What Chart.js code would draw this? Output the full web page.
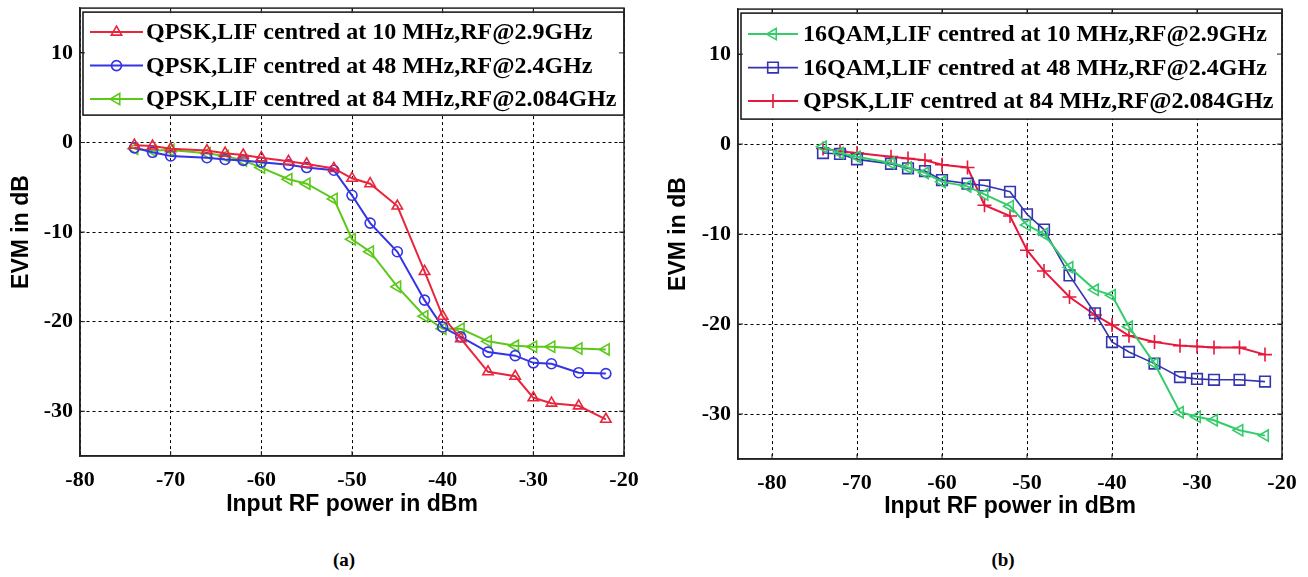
<!DOCTYPE html>
<html>
<head>
<meta charset="utf-8">
<script src="https://cdn.jsdelivr.net/npm/chart.js@4.4.0/dist/chart.umd.min.js"></script>
<style>
  body { margin: 0; background: #fff; width: 1308px; height: 577px; position: relative; overflow: hidden; }
  .wrap { position: absolute; top: 0; height: 520px; }
  #wrapA { left: 0; width: 650px; }
  #wrapB { left: 650px; width: 658px; }
  .cap { position: absolute; top: 549px; font: bold 19px 'Liberation Serif', serif; transform: translateX(-50%); }
</style>
</head>
<body>
<div class="wrap" id="wrapA"><canvas id="chartA"></canvas></div>
<div class="wrap" id="wrapB"><canvas id="chartB"></canvas></div>
<div class="cap" style="left:344px">(a)</div>
<div class="cap" style="left:1003px">(b)</div>
<script>
// input RF power (dBm), same sweep for every curve
const power = [-74, -72, -70, -66, -64, -62, -60, -57, -55, -52, -50, -48, -45, -42, -40, -38, -35, -32, -30, -28, -25, -22];

// (a) EVM in dB
const qpsk10 = [-0.3, -0.4, -0.7, -0.9, -1.2, -1.4, -1.7, -2.1, -2.4, -2.9, -4.0, -4.6, -7.1, -14.4, -19.4, -21.9, -25.6, -26.1, -28.5, -29.1, -29.4, -30.9];
const qpsk48 = [-0.6, -1.1, -1.5, -1.7, -1.9, -2.0, -2.2, -2.5, -2.8, -3.1, -5.9, -9.0, -12.2, -17.6, -20.6, -21.7, -23.4, -23.8, -24.6, -24.7, -25.7, -25.8];
const qpsk84 = [-0.7, -0.9, -0.85, -1.2, -1.5, -2.0, -2.8, -4.1, -4.6, -6.3, -10.8, -12.2, -16.1, -19.4, -20.8, -20.8, -22.2, -22.7, -22.8, -22.8, -23.0, -23.1];

// (b) EVM in dB
const qam10 = [-0.3, -1.0, -1.4, -2.1, -2.6, -3.2, -4.2, -4.7, -5.6, -6.9, -9.0, -10.0, -13.7, -16.2, -16.8, -20.3, -24.4, -29.8, -30.3, -30.7, -31.8, -32.4];
const qam48 = [-1.0, -1.1, -1.7, -2.2, -2.7, -3.0, -4.0, -4.4, -4.6, -5.3, -7.8, -9.5, -14.6, -18.8, -22.0, -23.1, -24.4, -25.9, -26.1, -26.2, -26.2, -26.4];
const qpskB84 = [-0.5, -0.8, -1.0, -1.4, -1.6, -1.8, -2.3, -2.6, -6.8, -8.0, -11.8, -14.1, -17.0, -19.0, -20.1, -21.3, -22.0, -22.4, -22.5, -22.6, -22.6, -23.4];

const xTicks = [-80, -70, -60, -50, -40, -30, -20];
const yTicks = [-30, -20, -10, 0, 10];

const labelsA = ['QPSK,LIF centred at 10 MHz,RF@2.9GHz', 'QPSK,LIF centred at 48 MHz,RF@2.4GHz', 'QPSK,LIF centred at 84 MHz,RF@2.084GHz'];
const labelsB = ['16QAM,LIF centred at 10 MHz,RF@2.9GHz', '16QAM,LIF centred at 48 MHz,RF@2.4GHz', 'QPSK,LIF centred at 84 MHz,RF@2.084GHz'];

function toPoints(ys) {
    return power.map((x, i) => ({ x: x, y: ys[i] }));
}

function series(label, ys, color, style, radius, rotation, width) {
    return {
        label: label,
        data: toPoints(ys),
        borderColor: color,
        backgroundColor: color,
        borderWidth: width,
        pointStyle: style,
        pointRadius: radius,
        pointRotation: rotation,
        pointBorderWidth: 1.6,
        pointBackgroundColor: 'rgba(0,0,0,0)',
        pointBorderColor: color,
        tension: 0
    };
}

// legend drawn inside the plot, matlab style
const boxLegend = {
    id: 'boxLegend',
    afterDatasetsDraw(chart, args, opts) {
        const ctx = chart.ctx;
        const area = chart.chartArea;
        const left = area.left + opts.dx;
        const top = area.top + opts.dy;
        const right = area.right;
        const bottom = top + opts.h;
        ctx.save();
        ctx.fillStyle = '#fff';
        ctx.fillRect(left, top, right - left, bottom - top);
        ctx.strokeStyle = '#111';
        ctx.lineWidth = 1.5;
        ctx.strokeRect(left, top, right - left, bottom - top);
        ctx.font = 'bold 24px "Liberation Serif"';
        ctx.textBaseline = 'middle';
        chart.data.datasets.forEach((ds, i) => {
            const y = top + opts.first + i * opts.step;
            ctx.strokeStyle = ds.borderColor;
            ctx.lineWidth = ds.borderWidth;
            ctx.beginPath();
            ctx.moveTo(left + 7, y);
            ctx.lineTo(left + opts.lineEnd, y);
            ctx.stroke();
            ctx.lineWidth = ds.pointBorderWidth;
            ctx.fillStyle = 'rgba(0,0,0,0)';
            Chart.helpers.drawPoint(ctx, {
                pointStyle: ds.pointStyle,
                rotation: ds.pointRotation,
                radius: ds.pointRadius,
                borderWidth: ds.pointBorderWidth
            }, left + 7 + (opts.lineEnd - 7) / 2, y);
            ctx.fillStyle = '#000';
            ctx.fillText(ds.label, left + opts.textX, y + 1);
        });
        ctx.restore();
    }
};

// full box and inward ticks
const frame = {
    id: 'frame',
    afterDraw(chart) {
        const ctx = chart.ctx;
        const a = chart.chartArea;
        const xs = chart.scales.x;
        const ys = chart.scales.y;
        ctx.save();
        ctx.strokeStyle = '#222';
        ctx.lineWidth = 1;
        ctx.beginPath();
        xTicks.forEach(v => {
            const px = xs.getPixelForValue(v);
            ctx.moveTo(px, a.bottom); ctx.lineTo(px, a.bottom - 5);
            ctx.moveTo(px, a.top); ctx.lineTo(px, a.top + 5);
        });
        yTicks.forEach(v => {
            const py = ys.getPixelForValue(v);
            ctx.moveTo(a.left, py); ctx.lineTo(a.left + 5, py);
            ctx.moveTo(a.right, py); ctx.lineTo(a.right - 5, py);
        });
        ctx.stroke();
        ctx.lineWidth = 1.5;
        ctx.strokeRect(a.left, a.top, a.right - a.left, a.bottom - a.top);
        ctx.restore();
    }
};

function makeChart(id, datasets, cfg) {
    return new Chart(document.getElementById(id), {
        type: 'line',
        data: { datasets: datasets },
        plugins: [boxLegend, frame],
        options: {
            responsive: true,
            maintainAspectRatio: false,
            animation: false,
            layout: { padding: { top: cfg.top, right: 26, left: 0, bottom: 0 } },
            plugins: {
                legend: { display: false },
                tooltip: { enabled: false },
                boxLegend: cfg.legend
            },
            scales: {
                x: {
                    type: 'linear',
                    min: cfg.xMin,
                    max: -20,
                    afterBuildTicks: s => { s.ticks = xTicks.map(v => ({ value: v })); },
                    afterFit: s => { s.height = cfg.xHeight; s.paddingLeft = 0; s.paddingRight = 0; },
                    grid: { color: '#000', lineWidth: 1, drawTicks: false },
                    border: { display: true, color: '#222', width: 1.5, dash: [3, 3] },
                    ticks: { color: '#000', padding: 11, maxRotation: 0, font: { family: 'Liberation Serif', weight: 'bold', size: 22 } },
                    title: {
                        display: true,
                        text: 'Input RF power in dBm',
                        color: '#000',
                        font: { family: 'Liberation Sans', weight: 'bold', size: 23, lineHeight: 1 },
                        padding: { top: 0, bottom: cfg.xTitlePad }
                    }
                },
                y: {
                    min: -35,
                    max: 15,
                    afterBuildTicks: s => { s.ticks = yTicks.map(v => ({ value: v })); },
                    afterFit: s => { s.width = cfg.yWidth; s.paddingTop = 0; s.paddingBottom = 0; },
                    grid: { color: '#000', lineWidth: 1, drawTicks: false },
                    border: { display: true, color: '#222', width: 1.5, dash: [3, 3] },
                    ticks: { color: '#000', padding: 7, font: { family: 'Liberation Serif', weight: 'bold', size: 22 } },
                    title: {
                        display: true,
                        text: 'EVM in dB',
                        color: '#000',
                        font: { family: 'Liberation Sans', weight: 'bold', size: 23, lineHeight: 1 },
                        padding: { top: cfg.yTitlePad, bottom: 0 }
                    }
                }
            }
        }
    });
}

const chartA = makeChart('chartA', [
    series(labelsA[0], qpsk10, '#e8253c', 'triangle', 6, 0, 2),
    series(labelsA[1], qpsk48, '#3434e6', 'circle', 5, 0, 2),
    series(labelsA[2], qpsk84, '#5cc81a', 'triangle', 6.5, -90, 2)
], {
    top: 6, xMin: -80, xHeight: 64, yWidth: 80, xTitlePad: 3.5, yTitlePad: 10.5,
    legend: { dx: 3, dy: 4, h: 103, first: 20, step: 33.5, lineEnd: 60, textX: 63 }
});

const chartB = makeChart('chartB', [
    series(labelsB[0], qam10, '#34cc6a', 'triangle', 6.5, -90, 2),
    series(labelsB[1], qam48, '#3434b0', 'rect', 7.5, 0, 1.6),
    series(labelsB[2], qpskB84, '#e6183c', 'cross', 7, 0, 2)
], {
    top: 8, xMin: -84, xHeight: 61, yWidth: 88, xTitlePad: 1.5, yTitlePad: 17.5,
    legend: { dx: 3, dy: 4, h: 106, first: 21, step: 33.5, lineEnd: 57, textX: 62 }
});
</script>
</body>
</html>
